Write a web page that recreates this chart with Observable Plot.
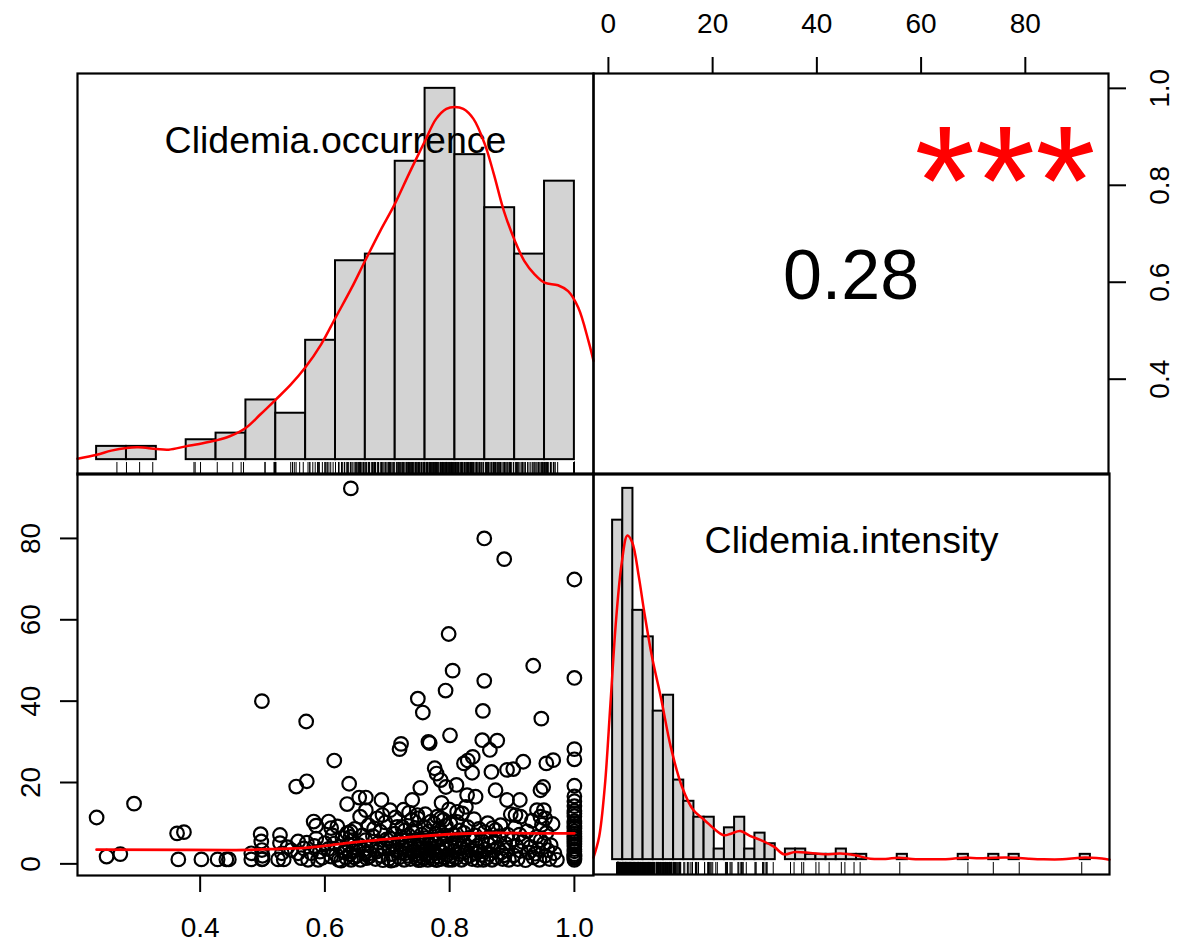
<!DOCTYPE html>
<html><head><meta charset="utf-8">
<script src="https://cdn.jsdelivr.net/npm/d3@7"></script>
<script src="https://cdn.jsdelivr.net/npm/@observablehq/plot@0.6"></script>
<style>
body{margin:0;background:#fff;}
#chart{position:relative;width:1181px;height:945px;background:#fff;overflow:hidden;font-family:"Liberation Sans",Arial,Helvetica,sans-serif;}
#chart svg{position:absolute;}
</style></head><body><div id="chart"></div>
<script>
// ---------- variable names ----------
const varNames = ["Clidemia.occurrence", "Clidemia.intensity"];
const corrText = "0.28";
const signifText = "***";

// ---------- histogram of occurrence ----------
const occBreaks = [0.20,0.25,0.30,0.35,0.40,0.45,0.50,0.55,0.60,0.65,0.70,0.75,0.80,0.85,0.90,0.95,1.00];
const occCounts = [2,2,0,3,4,9,7,18,30,31,45,56,46,38,31,42];
// density curve of occurrence
const occCurveX = [0.168,0.2003,0.2247,0.2501,0.270,0.300,0.321,0.3493,0.372,0.399,0.4229,0.4496,0.474,0.500,0.525,0.549,0.576,0.600,0.627,0.6496,0.675,0.699,0.723,0.750,0.7685,0.7856,0.7998,0.814,0.831,0.850,0.865,0.882,0.9004,0.916,0.933,0.950,0.9725,0.9895,1.0066,1.0235,1.032];
const occCurveY = [0.008,0.041,0.075,0.097,0.102,0.088,0.083,0.110,0.130,0.158,0.194,0.263,0.374,0.498,0.621,0.761,0.956,1.176,1.423,1.648,1.896,2.115,2.368,2.643,2.824,2.907,2.923,2.907,2.824,2.615,2.368,2.060,1.813,1.648,1.538,1.467,1.445,1.396,1.258,0.984,0.819];

// ---------- histogram of intensity ----------
const intBreaks = [0,2,4,6,8,10,12,14,16,18,20,22,24,26,28,30,32,34,36,38,40,42,44,46,48,50,52,54,56,58,60,62,64,66,68,70,72,74,76,78,80,82,84,86,88,90,92,94];
const intCounts = [64,70,47,42,28,31,15,11,8,8, 2,6,8,2,5,3,0,2,2,1, 1,1,2,1,1,0,0,0,1,0, 0,0,0,0,1,0,0,1,0,1, 0,0,0,0,0,0,1];
const intCurveX = [-3.76,-2.65,-1.54,-0.42,0.69,1.80,2.91,3.87,5.13,6.24,7.72,9.58,11.43,13.65,15.88,18.1,20.3,21.95,23.3,25.1,27.0,29.6,31.8,33.7,35.9,38.9,41.8,44.8,47.7,50.7,53.7,56.3,58.9,62.6,66.3,69.2,72.2,75.2,78.9,81.8,84.8,88.5,92.2,95.2,97.76];
const intCurveY = [0.00052,0.00587,0.01878,0.04030,0.06189,0.07650,0.08347,0.08169,0.07309,0.06366,0.05246,0.04126,0.02910,0.01878,0.01276,0.01016,0.00758,0.00628,0.00669,0.00738,0.00615,0.00478,0.00328,0.00137,0.00198,0.00172,0.00137,0.00156,0.00112,0.00026,0.00018,0.00052,0.00018,0.00008,0.00018,0.00052,0.00034,0.00052,0.00052,0.00026,0.00008,0.00008,0.00052,0.00042,0.00000];

// ---------- scatter: [occurrence, intensity] ----------
const sparsePoints = [
[0.234,11.4],[0.250,1.8],[0.272,2.4],[0.294,14.8],[0.363,7.5],[0.374,7.8],[0.365,1.1],[0.402,1.1],[0.428,1.1],[0.442,1.1],[0.446,1.1],
[0.499,40.0],[0.570,35.0],[0.615,25.4],[0.554,19.0],[0.571,20.3],[0.582,10.4],[0.586,9.4],[0.606,10.4],[0.610,8.8],
[0.6416,92.3],[0.8555,80.0],[0.8875,74.9],[1.0,69.9],[0.7984,56.5],[0.8048,47.5],[0.8555,45.0],[0.934,48.7],[1.0,45.7],[0.7935,42.6],[0.749,40.6],[0.757,37.2],[0.8006,31.6],[0.8533,37.6],[0.947,35.7],
[0.7197,28.2],[0.7221,29.5],[0.766,30.0],[0.768,29.7],[0.8523,30.4],[0.8645,28.0],[0.8763,30.3],[1.0,28.2],[1.0,25.7],[1.0,19.2],
[0.6389,19.7],[0.6356,14.7],[0.655,16.3],[0.6656,16.3],[0.6907,15.7],[0.7045,13.2],[0.726,13.3],[0.740,15.7],[0.753,18.7],[0.776,23.5],[0.779,22.2],[0.7856,20.6],[0.794,18.9],[0.811,19.4],[0.823,24.7],[0.829,25.4],[0.837,26.3],[0.836,22.4],[0.867,22.6],[0.892,23.1],[0.902,23.3],[0.918,25.1],[0.955,24.7],[0.966,25.5],[0.8736,18.1],[0.9456,18.1],[0.9499,18.9],[0.828,16.9],[0.8416,16.5],[0.892,15.7],[0.9125,15.7],
[0.6656,13.2],[0.6565,11.6],[0.684,11.2],[0.6923,12.0],[0.7483,12.0],[0.749,11.2],[0.780,11.6],[0.7856,11.2],[0.812,12.8],[0.820,12.4],[0.9056,12.0],[0.9136,11.6],[0.940,13.2],[0.951,13.2],[0.9456,11.6],[0.953,11.2],
[1.0,16.6],[1.0,15.4],[1.0,14.2],[1.0,13.0],[1.0,11.7],[1.0,10.5],[1.0,9.3],[1.0,8.0],[1.0,6.8],[1.0,5.5],[1.0,4.3],[1.0,3.1],[1.0,1.8],[1.0,1.0]
];
const densePoints = [
[0.482,2.6],[0.482,1.1],[0.497,7.3],[0.498,5.5],[0.499,3.4],[0.499,1.1],[0.500,2.0],[0.500,1.2],
[0.528,7.1],[0.528,5.1],[0.525,1.1],[0.534,1.1],[0.546,3.4],[0.531,2.6],[0.540,4.1],
[0.557,5.5],[0.557,2.6],[0.571,5.2],[0.573,1.0],[0.578,2.6],[0.589,1.0],[0.600,5.1],[0.566,3.8],[0.583,4.4],[0.592,3.0],[0.596,1.5],[0.562,1.4],[0.586,6.2],
[0.610,1.8],[0.605,3.6],[0.615,5.0],[0.618,2.2],[0.622,1.0],[0.625,4.2],[0.628,6.4],[0.631,3.0],[0.634,1.5],[0.636,7.6],[0.638,4.8],[0.640,2.4],[0.642,1.0],[0.644,5.8],[0.646,3.2],[0.648,8.6],[0.612,7.0],[0.620,9.2],[0.626,0.8],[0.633,2.8],[0.641,6.6],[0.647,1.6],[0.650,4.0],[0.6416,7.9],
[0.652,2.0],[0.655,4.6],[0.657,1.0],[0.660,7.0],[0.662,3.4],[0.665,5.8],[0.667,1.4],[0.670,9.5],[0.672,2.6],[0.675,4.2],[0.677,6.8],[0.679,8.7],[0.681,1.2],[0.683,3.0],[0.686,5.2],[0.689,7.9],[0.690,2.0],[0.693,0.9],[0.695,4.0],[0.697,10.2],[0.699,6.0],[0.664,2.6],[0.688,3.6],[0.671,1.8],
[0.702,1.2],[0.703,3.8],[0.705,6.2],[0.707,2.4],[0.709,4.8],[0.711,1.0],[0.712,7.4],[0.714,3.2],[0.716,9.1],[0.718,5.4],[0.719,1.6],[0.721,2.8],[0.722,6.6],[0.724,9.1],[0.725,4.0],[0.727,1.0],[0.728,8.2],[0.730,3.4],[0.731,5.8],[0.733,2.0],[0.734,7.0],[0.736,4.4],[0.737,1.2],[0.739,10.8],[0.740,7.9],[0.741,3.0],[0.743,5.0],[0.744,2.2],[0.745,8.8],[0.747,1.4],[0.748,6.0],[0.749,3.6],[0.750,0.9],[0.713,11.4],[0.735,12.6],[0.706,0.8],[0.729,2.6],
[0.752,2.0],[0.753,4.6],[0.754,1.0],[0.755,7.2],[0.757,3.0],[0.758,5.6],[0.759,1.4],[0.760,9.0],[0.762,2.4],[0.763,6.4],[0.764,3.8],[0.765,1.0],[0.767,8.0],[0.768,4.8],[0.769,2.0],[0.770,10.4],[0.771,6.0],[0.772,3.2],[0.773,1.2],[0.775,9.9],[0.776,5.2],[0.777,2.6],[0.778,7.4],[0.779,0.9],[0.781,4.2],[0.782,1.8],[0.783,8.6],[0.784,3.4],[0.785,6.2],[0.786,1.2],[0.788,2.8],[0.789,5.0],[0.790,10.8],[0.791,7.0],[0.792,1.6],[0.793,3.6],[0.794,9.4],[0.795,4.4],[0.796,2.2],[0.797,6.8],[0.798,1.0],[0.799,13.4],[0.761,12.2],[0.787,15.0],
[0.801,9.9],[0.802,2.0],[0.803,5.0],[0.804,1.0],[0.806,7.2],[0.807,3.2],[0.809,4.6],[0.810,1.4],[0.812,10.3],[0.813,6.0],[0.815,2.4],[0.816,8.2],[0.818,3.8],[0.819,1.0],[0.821,5.4],[0.823,7.6],[0.824,2.8],[0.826,1.6],[0.828,4.2],[0.829,9.0],[0.831,6.4],[0.832,2.0],[0.834,3.4],[0.836,1.2],[0.837,5.8],[0.839,11.0],[0.841,7.0],[0.842,2.6],[0.844,4.4],[0.845,1.0],[0.847,8.6],[0.848,3.0],[0.826,14.0],
[0.851,2.2],[0.852,5.6],[0.854,1.0],[0.856,7.8],[0.857,3.6],[0.859,1.4],[0.861,10.0],[0.862,4.8],[0.864,2.4],[0.866,6.4],[0.868,1.0],[0.869,8.8],[0.871,3.3],[0.872,5.2],[0.8736,8.3],[0.875,1.6],[0.877,4.0],[0.879,6.8],[0.8816,9.5],[0.883,2.8],[0.885,1.2],[0.887,2.1],[0.889,5.0],[0.891,3.4],[0.893,7.2],[0.895,1.0],[0.898,12.2],
[0.901,6.0],[0.903,2.1],[0.905,9.0],[0.907,4.4],[0.909,1.2],[0.912,7.2],[0.914,3.2],[0.917,5.4],[0.9216,0.9],[0.924,8.0],[0.927,2.8],[0.9296,4.2],[0.932,10.6],[0.934,1.6],[0.937,2.5],[0.939,6.6],[0.942,3.6],[0.944,1.0],[0.946,5.8],[0.948,9.6],
[0.951,5.0],[0.953,2.0],[0.955,7.6],[0.957,3.4],[0.960,1.2],[0.962,4.6],[0.965,9.8],[0.968,2.6],[0.972,1.0],
[1.0,2.4],[1.0,3.6],[1.0,4.9],[1.0,6.2],[1.0,7.4],[1.0,8.7],[1.0,12.4],[1.0,1.4],[1.0,2.0],[1.0,10.0]
];
// smoother (red) in scatter panel
const smoothX = [0.234,0.45,0.5114,0.5726,0.6096,0.634,0.695,0.7565,0.8178,0.879,0.9405,1.0];
const smoothY = [3.5,3.4,3.6,4.0,4.6,5.1,6.0,6.8,7.4,7.6,7.5,7.5];

// tick values
const occTicks = [0.4,0.6,0.8,1.0];
const intTicks = [0,20,40,60,80];

// ---------- derived ----------
const points = sparsePoints.concat(densePoints);
const occurrence = points.map(d => d[0]);
const intensity = points.map(d => d[1]);
const ext = ([a, b]) => [a - 0.04 * (b - a), b + 0.04 * (b - a)];
const occDomain = ext(d3.extent(occurrence));
const intDomain = ext(d3.extent(intensity));

function histBins(breaks, counts) {
  const n = d3.sum(counts);
  return counts.map((c, i) => ({x1: breaks[i], x2: breaks[i + 1], count: c, density: c / (n * (breaks[i + 1] - breaks[i]))}))
    .filter(d => d.count > 0);
}
const occBins = histBins(occBreaks, occCounts);
const intBins = histBins(intBreaks, intCounts);
const occHistX = ext([occBreaks[0], occBreaks[occBreaks.length - 1]]);
const intHistX = ext([intBreaks[0], intBreaks[intBreaks.length - 1]]);
const occMax = d3.max(occBins, d => d.density);
const intMax = d3.max(intBins, d => d.density);
const occHistY = [-0.04 * occMax, 1.04 * occMax];
const intHistY = [-0.04 * intMax, 1.04 * intMax];
const occCurve = occCurveX.map((x, i) => ({x, y: occCurveY[i]}));
const intCurve = intCurveX.map((x, i) => ({x, y: intCurveY[i]}));
const smooth = smoothX.map((x, i) => ({x, y: smoothY[i]}));

const FONT = "Liberation Sans, Arial, Helvetica, sans-serif";
const baseStyle = {background: "transparent", overflow: "visible", fontFamily: FONT, color: "black"};
const chart = document.getElementById("chart");
function place(svg, left, top) { svg.style.left = left + "px"; svg.style.top = top + "px"; chart.appendChild(svg); }
const fmt1 = d3.format(".1f");
const frame = Plot.frame({stroke: "black", strokeWidth: 2.2});
const GRAY = "#d3d3d3";
const TICKFONT = 28;

function histPanel(bins, xDom, yDom, curve, rugVals, label) {
  const rugTop = yDom[0] + 0.03 * (yDom[1] - yDom[0]);
  return Plot.plot({
    width: 516, height: 401, margin: 0,
    x: {domain: xDom, axis: null}, y: {domain: yDom, axis: null},
    style: baseStyle,
    marks: [
      Plot.rectY(bins, {x1: "x1", x2: "x2", y1: 0, y2: "density", fill: GRAY, stroke: "black", strokeWidth: 2}),
      Plot.text([label], {frameAnchor: "top", lineAnchor: "bottom", dy: 79, fontSize: 37.5, fill: "black"}),
      Plot.line(curve, {x: "x", y: "y", stroke: "red", strokeWidth: 2.5, curve: "catmull-rom"}),
      Plot.ruleX(rugVals, {x: d => d, y1: yDom[0], y2: rugTop, stroke: "black", strokeWidth: 1}),
      frame
    ]
  });
}

// top-left
place(histPanel(occBins, occHistX, occHistY, occCurve, occurrence, varNames[0]), 77, 73);
// bottom-right
place(histPanel(intBins, intHistX, intHistY, intCurve, intensity, varNames[1]), 593, 473);

// top-right: correlation + axes
place(Plot.plot({
  width: 588, height: 474, marginTop: 73, marginRight: 73, marginLeft: 0, marginBottom: 0,
  x: {domain: intDomain}, y: {domain: occDomain},
  style: baseStyle,
  marks: [
    frame,
    Plot.text([corrText], {frameAnchor: "middle", lineAnchor: "middle", dy: 3, fontSize: 70, fill: "black"}),
    Plot.text([signifText], {frameAnchor: "middle", lineAnchor: "bottom", dx: 154, dy: -40, fontSize: 155, fill: "red"}),
    Plot.axisX(intTicks, {anchor: "top", tickSize: 17, tickPadding: 24, fontSize: TICKFONT, strokeWidth: 2, tickFormat: d => String(d), label: null}),
    Plot.axisY(occTicks, {anchor: "right", tickSize: 17, tickPadding: 24, tickRotate: -90, textAnchor: "middle", lineAnchor: "top", fontSize: TICKFONT, strokeWidth: 2, tickFormat: fmt1, label: null})
  ]
}), 593, 0);

// bottom-left: scatter
place(Plot.plot({
  width: 593, height: 472, marginLeft: 77, marginTop: 0, marginRight: 0, marginBottom: 70,
  x: {domain: occDomain}, y: {domain: intDomain},
  style: baseStyle,
  marks: [
    frame,
    Plot.dot(points, {x: d => d[0], y: d => d[1], r: 6.8, stroke: "black", strokeWidth: 2.2, fill: "none"}),
    Plot.line(smooth, {x: "x", y: "y", stroke: "red", strokeWidth: 2.8, curve: "monotone-x"}),
    Plot.axisY(intTicks, {anchor: "left", tickSize: 17, tickPadding: 21, tickRotate: -90, textAnchor: "middle", lineAnchor: "bottom", fontSize: TICKFONT, strokeWidth: 2, tickFormat: d => String(d), label: null}),
    Plot.axisX(occTicks, {anchor: "bottom", tickSize: 17, tickPadding: 25, fontSize: TICKFONT, strokeWidth: 2, tickFormat: fmt1, label: null})
  ]
}), 0, 473);
</script></body></html>
